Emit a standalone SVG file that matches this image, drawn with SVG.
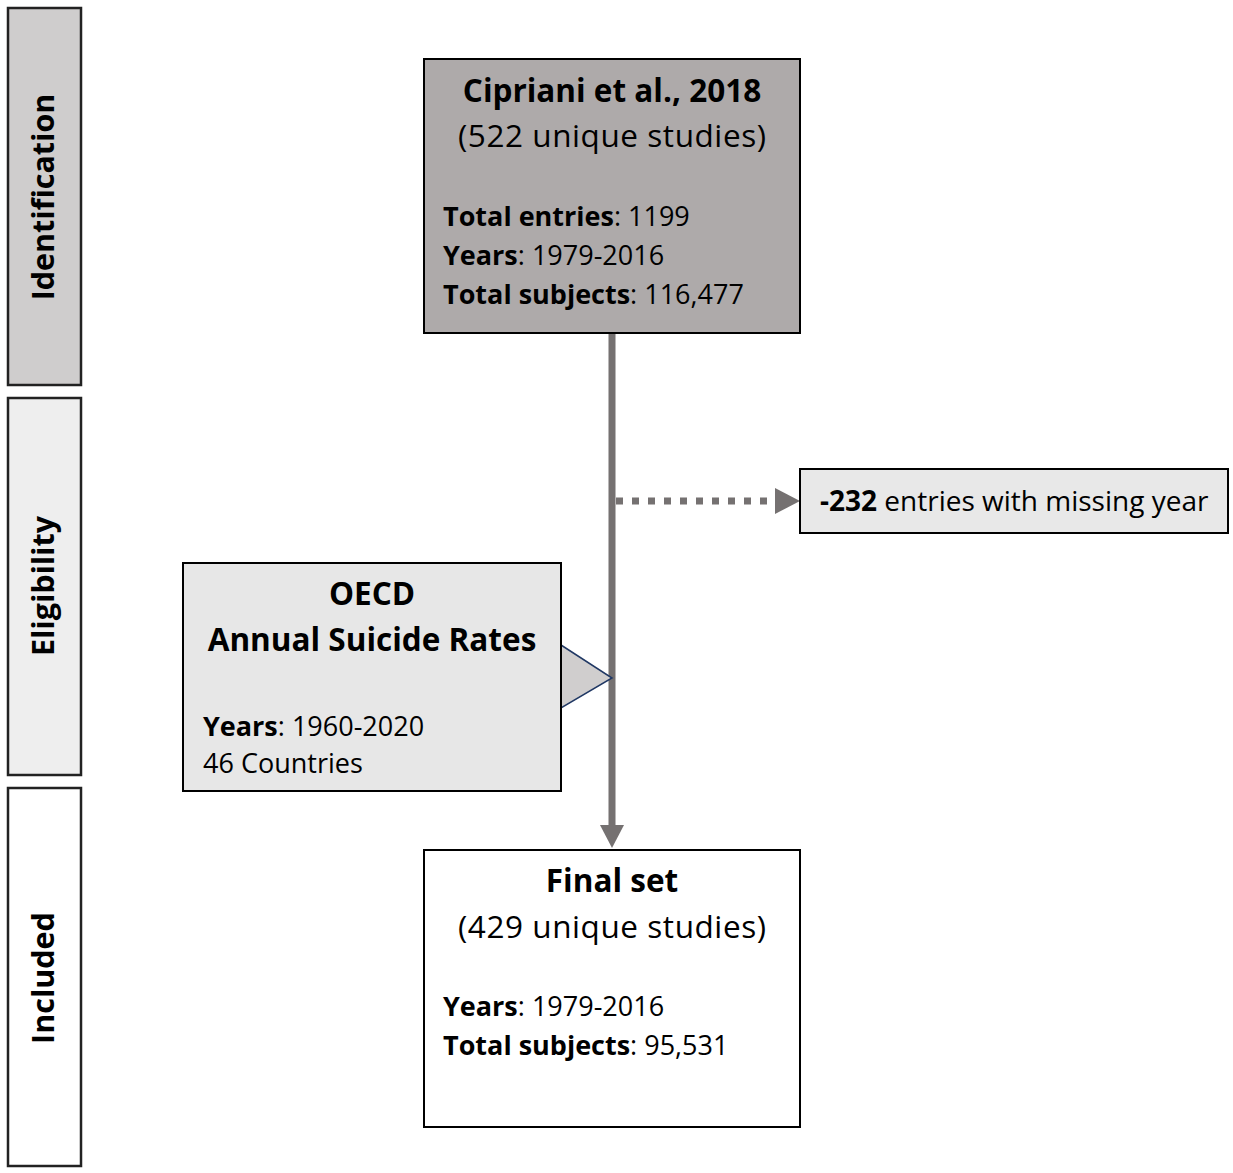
<svg xmlns="http://www.w3.org/2000/svg" width="1233" height="1173" viewBox="0 0 1233 1173">
<style>
.t{font-family:"Open Sans","Liberation Sans",sans-serif;fill:#000;}
.b{font-weight:bold;}
.h{font-size:31.5px;}
.p{font-size:27px;}
.v{font-size:30.5px;font-weight:bold;}
.box{stroke:#000;stroke-width:2;}
.band{stroke:#222;stroke-width:2.5;}
.conn{stroke:#757171;stroke-width:7;fill:none;}
.head{fill:#757171;}
</style>
<rect width="1233" height="1173" fill="#fff"/>
<g id="band-identification">
<rect class="band" x="8" y="8" width="73" height="377" fill="#cfcdcd"/>
<text class="t v" transform="translate(54,197) rotate(-90)" text-anchor="middle">Identification</text>
</g>
<g id="band-eligibility">
<rect class="band" x="8" y="398" width="73" height="377" fill="#eeeeee"/>
<text class="t v" transform="translate(54,586) rotate(-90)" text-anchor="middle">Eligibility</text>
</g>
<g id="band-included">
<rect class="band" x="8" y="788" width="73" height="378" fill="#ffffff"/>
<text class="t v" transform="translate(54,978) rotate(-90)" text-anchor="middle">Included</text>
</g>
<g id="connectors">
<line class="conn" x1="612" y1="333" x2="612" y2="827"/>
<path class="head" d="M600,825 L624,825 L612,848 z"/>
<line class="conn" x1="616" y1="501" x2="777" y2="501" stroke-dasharray="7,9"/>
<path class="head" d="M775,488 L800,501 L775,514 z"/>
<polygon points="561,645 612,678 561,708" fill="#d0cece" stroke="#203864" stroke-width="1.5"/>
</g>
<g id="node-cipriani">
<rect class="box" x="424" y="59" width="376" height="274" fill="#aeaaaa"/>
<text class="t b h" x="612" y="102" text-anchor="middle">Cipriani et al., 2018</text>
<text class="t h" x="612" y="147" text-anchor="middle" textLength="308">(522 unique studies)</text>
<text class="t p" x="443" y="226"><tspan class="b">Total entries</tspan>: 1199</text>
<text class="t p" x="443" y="265"><tspan class="b">Years</tspan>: 1979-2016</text>
<text class="t p" x="443" y="304"><tspan class="b">Total subjects</tspan>: 116,477</text>
</g>
<g id="node-missing">
<rect class="box" x="800" y="469" width="428" height="64" fill="#e8e8e8"/>
<text class="t" x="820" y="511" font-size="28"><tspan class="b">-232</tspan> entries with missing year</text>
</g>
<g id="node-oecd">
<rect class="box" x="183" y="563" width="378" height="228" fill="#e7e7e7"/>
<text class="t b h" x="372" y="605" text-anchor="middle">OECD</text>
<text class="t b h" x="372" y="651" text-anchor="middle">Annual Suicide Rates</text>
<text class="t p" x="203" y="736"><tspan class="b">Years</tspan>: 1960-2020</text>
<text class="t p" x="203" y="773">46 Countries</text>
</g>
<g id="node-final">
<rect class="box" x="424" y="850" width="376" height="277" fill="#ffffff"/>
<text class="t b h" x="612" y="892" text-anchor="middle">Final set</text>
<text class="t h" x="612" y="938" text-anchor="middle" textLength="308">(429 unique studies)</text>
<text class="t p" x="443" y="1016"><tspan class="b">Years</tspan>: 1979-2016</text>
<text class="t p" x="443" y="1055"><tspan class="b">Total subjects</tspan>: 95,531</text>
</g>
</svg>
